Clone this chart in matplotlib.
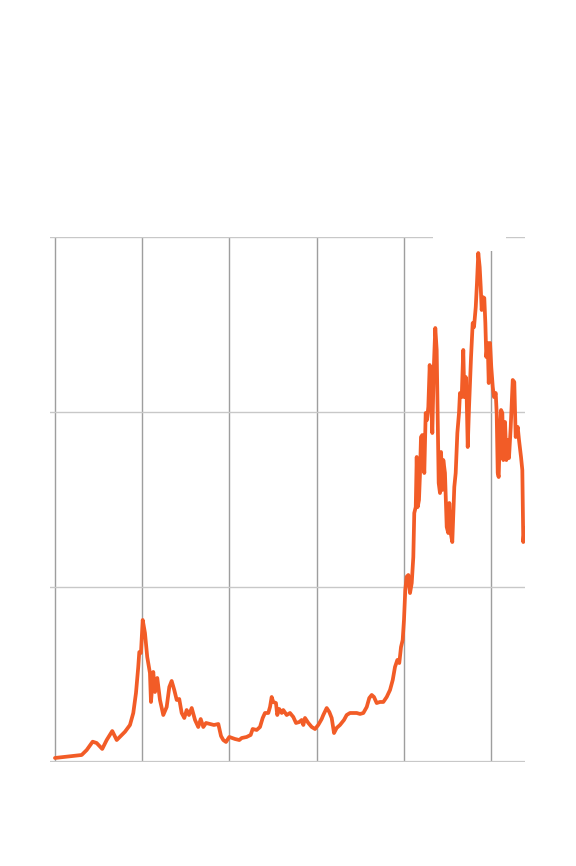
import matplotlib
matplotlib.use('Agg')
import matplotlib.pyplot as plt
from matplotlib.patches import Rectangle

# Preço (milhares) por data em anos decimais
anos = [2017.000, 2017.306, 2017.364, 2017.432, 2017.478, 2017.542, 2017.593, 2017.657,
        2017.708, 2017.765, 2017.803, 2017.860, 2017.898, 2017.929, 2017.955, 2017.967,
        2017.986, 2018.006, 2018.032, 2018.058, 2018.070, 2018.089, 2018.101, 2018.127,
        2018.147, 2018.173, 2018.204, 2018.242, 2018.281, 2018.311, 2018.338, 2018.368,
        2018.396, 2018.425, 2018.453, 2018.483, 2018.510, 2018.537, 2018.568, 2018.606,
        2018.643, 2018.671, 2018.701, 2018.732, 2018.778, 2018.823, 2018.873, 2018.904,
        2018.930, 2018.961, 2018.999, 2019.064, 2019.114, 2019.141, 2019.198, 2019.244,
        2019.267, 2019.313, 2019.351, 2019.382, 2019.408, 2019.446, 2019.466, 2019.485,
        2019.503, 2019.534, 2019.549, 2019.572, 2019.600, 2019.618, 2019.657, 2019.695,
        2019.733, 2019.764, 2019.802, 2019.829, 2019.848, 2019.867, 2019.905, 2019.944,
        2019.982, 2020.019, 2020.058, 2020.077, 2020.116, 2020.146, 2020.173, 2020.200,
        2020.230, 2020.268, 2020.314, 2020.345, 2020.383, 2020.421, 2020.460, 2020.498,
        2020.536, 2020.575, 2020.604, 2020.632, 2020.658, 2020.689, 2020.727, 2020.765,
        2020.804, 2020.842, 2020.873, 2020.899, 2020.926, 2020.948, 2020.968, 2020.987,
        2021.002, 2021.017, 2021.033, 2021.052, 2021.071, 2021.091, 2021.109, 2021.120,
        2021.137, 2021.148, 2021.159, 2021.174, 2021.186, 2021.197, 2021.212, 2021.235,
        2021.251, 2021.266, 2021.281, 2021.297, 2021.312, 2021.327, 2021.343, 2021.361,
        2021.377, 2021.389, 2021.400, 2021.415, 2021.427, 2021.442, 2021.453, 2021.472,
        2021.492, 2021.510, 2021.522, 2021.538, 2021.556, 2021.579, 2021.595, 2021.614,
        2021.633, 2021.644, 2021.664, 2021.682, 2021.694, 2021.710, 2021.721, 2021.733,
        2021.748, 2021.771, 2021.790, 2021.805, 2021.825, 2021.839, 2021.854, 2021.870,
        2021.882, 2021.893, 2021.905, 2021.923, 2021.935, 2021.946, 2021.962, 2021.974,
        2021.989, 2022.003, 2022.020, 2022.034, 2022.054, 2022.065, 2022.077, 2022.088,
        2022.103, 2022.115, 2022.130, 2022.141, 2022.161, 2022.176, 2022.191, 2022.206,
        2022.226, 2022.249, 2022.267, 2022.283, 2022.306, 2022.321, 2022.344, 2022.359,
        2022.370, 2022.384]

precos = [0.46, 0.80, 1.37, 2.32, 2.17, 1.49, 2.51, 3.54,
          2.51, 3.09, 3.46, 4.23, 5.60, 7.89, 10.86, 12.57,
          12.46, 16.23, 14.74, 12.00, 11.31, 10.17, 6.86, 10.29,
          8.00, 9.60, 7.09, 5.37, 6.29, 8.57, 9.26, 8.23,
          7.09, 7.20, 5.60, 5.03, 5.94, 5.37, 6.17, 4.80,
          4.00, 4.91, 4.00, 4.46, 4.34, 4.23, 4.34, 2.97,
          2.51, 2.29, 2.86, 2.63, 2.51, 2.74, 2.86, 3.09,
          3.77, 3.66, 4.00, 5.03, 5.60, 5.60, 6.29, 7.43,
          6.86, 6.74, 5.37, 6.06, 5.60, 5.94, 5.37, 5.60,
          5.14, 4.46, 4.57, 4.80, 4.23, 5.03, 4.46, 4.00,
          3.77, 4.23, 4.91, 5.37, 6.17, 5.71, 5.03, 3.31,
          3.89, 4.23, 4.80, 5.37, 5.60, 5.60, 5.60, 5.49,
          5.60, 6.29, 7.31, 7.66, 7.43, 6.74, 6.86, 6.86,
          7.43, 8.23, 9.37, 10.86, 11.66, 11.31, 13.14, 13.94,
          16.23, 19.66, 21.18, 21.37, 19.31, 20.46, 23.43, 28.46,
          29.14, 34.86, 29.14, 29.94, 33.03, 37.14, 37.37, 33.03,
          39.89, 39.09, 40.57, 45.37, 41.71, 37.60, 44.80, 49.60,
          47.09, 39.43, 31.89, 30.74, 35.43, 31.09, 34.51, 33.03,
          26.86, 26.17, 29.60, 26.17, 25.14, 31.43, 33.03, 37.60,
          39.89, 42.17, 41.71, 47.09, 41.71, 44.00, 41.71, 36.00,
          40.57, 46.29, 50.17, 49.71, 52.00, 54.74, 58.17, 56.57,
          54.29, 51.66, 53.14, 53.03, 50.17, 46.29, 47.89, 43.31,
          47.89, 45.14, 42.86, 41.71, 42.17, 39.89, 33.03, 32.57,
          37.94, 40.23, 39.89, 34.51, 38.86, 34.51, 36.80, 34.74,
          38.29, 43.66, 43.43, 37.14, 38.29, 36.80, 34.86, 33.37,
          25.14, 26.74]

anos_grade = [2017, 2018, 2019, 2020, 2021, 2022]
valores_grade = [20, 40, 60]

fig = plt.figure(figsize=(5.76, 8.66), dpi=100)
ax = fig.add_axes([0.0868, 0.1201, 0.8247, 0.6062])

# Grades verticais (anos) e horizontais (preço)
for a in anos_grade:
    ax.axvline(a, color='#9e9e9e', linewidth=1.0, zorder=1)
for v in valores_grade:
    ax.axhline(v, color='#c8c8c8', linewidth=1.0, zorder=1)
ax.axhline(0, color='#c8c8c8', linewidth=1.6, zorder=1)

# Caixa branca que cobre parte da grade no topo
ax.add_patch(Rectangle((2021.33, 58.4), 0.84, 2.0, facecolor='white',
                       edgecolor='none', zorder=2, clip_on=False))

ax.plot(anos, precos, color='#f25c27', linewidth=2.7, zorder=3,
        solid_joinstyle='round', solid_capstyle='round')

ax.set_xlim(2016.943, 2022.39)
ax.set_ylim(0, 60)
ax.set_xticks([])
ax.set_yticks([])
for s in ax.spines.values():
    s.set_visible(False)

plt.savefig('out.png', dpi=100)
